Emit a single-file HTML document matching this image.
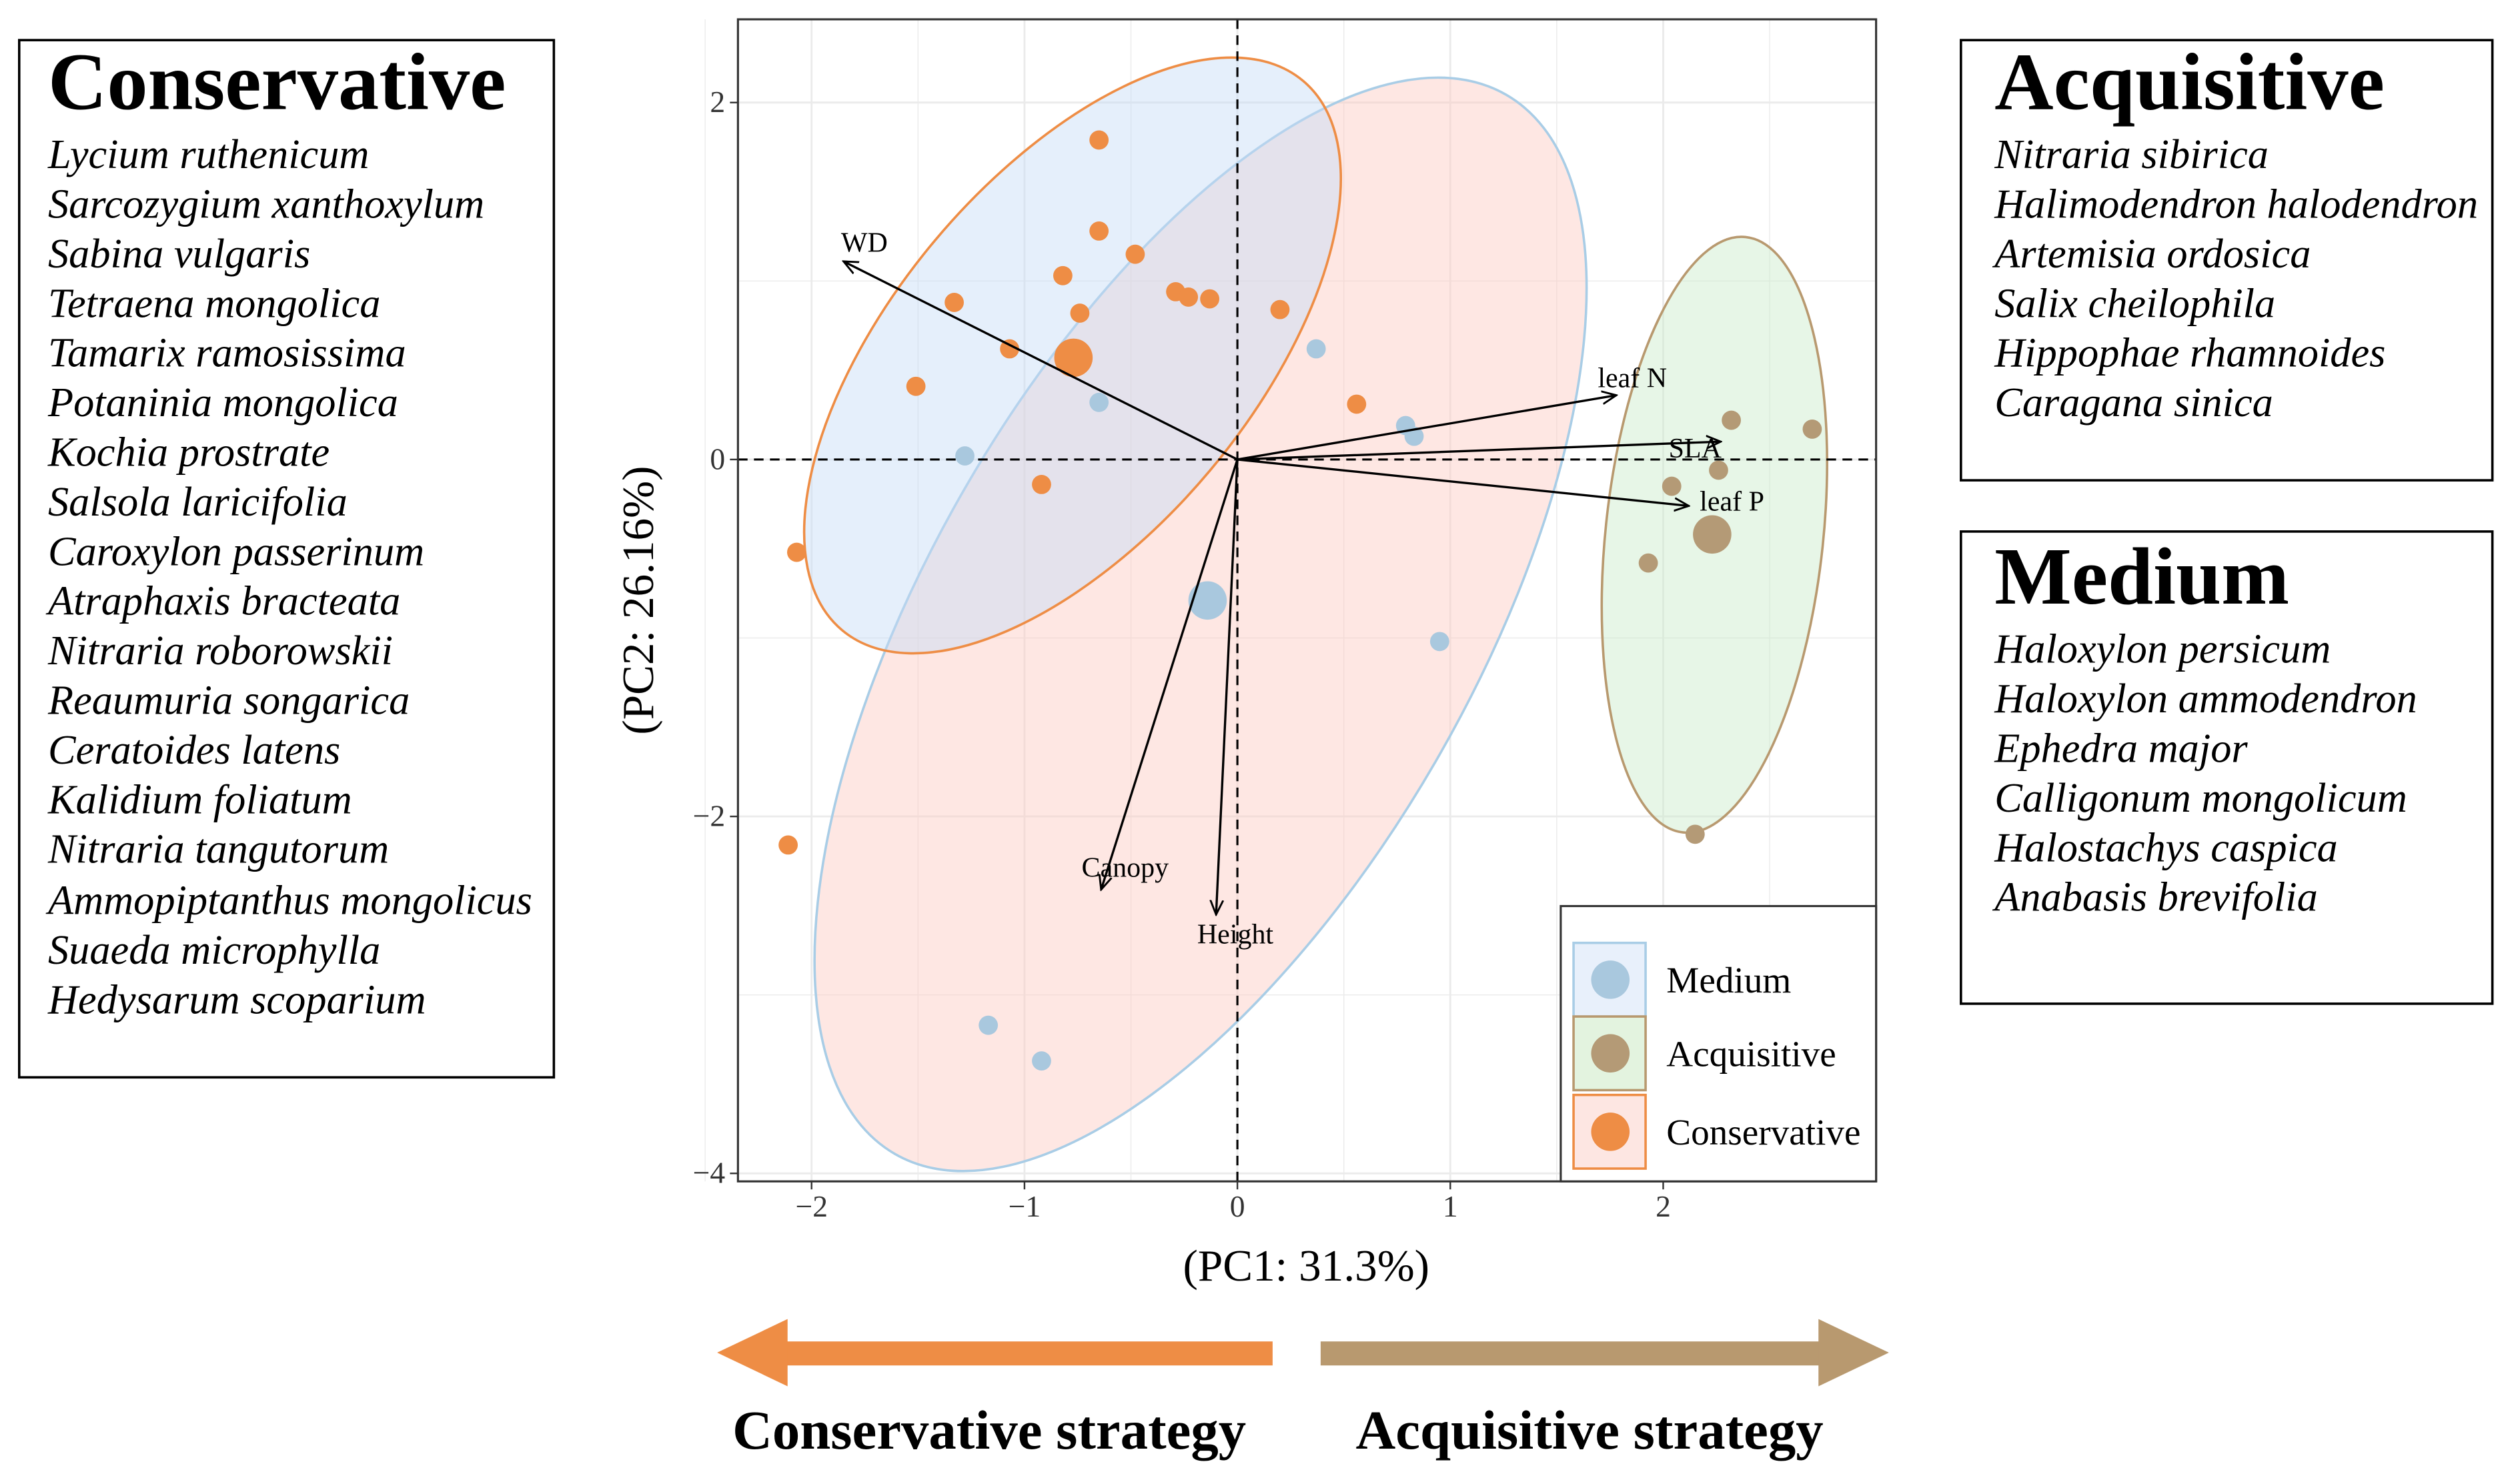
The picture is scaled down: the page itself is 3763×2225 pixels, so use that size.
<!DOCTYPE html>
<html><head><meta charset="utf-8">
<style>
html,body{margin:0;padding:0;background:#fff;}
svg{display:block;}
text{font-family:"Liberation Serif",serif;}
</style></head>
<body>
<svg id="chart" width="3763" height="2225" viewBox="0 0 1568 927" xmlns="http://www.w3.org/2000/svg">
<rect x="0" y="0" width="1568" height="927" fill="#fff"/>
<g id="plot"></g>

<g>
<rect x="12" y="25" width="334" height="648" fill="#fff" stroke="#000" stroke-width="1.5"/>
<text x="30" y="68" font-size="51" font-weight="bold">Conservative</text>
<g font-size="26" font-style="italic">
<text x="30" y="105">Lycium ruthenicum</text>
<text x="30" y="136">Sarcozygium xanthoxylum</text>
<text x="30" y="167">Sabina vulgaris</text>
<text x="30" y="198">Tetraena mongolica</text>
<text x="30" y="229">Tamarix ramosissima</text>
<text x="30" y="260">Potaninia mongolica</text>
<text x="30" y="291">Kochia prostrate</text>
<text x="30" y="322">Salsola laricifolia</text>
<text x="30" y="353">Caroxylon passerinum</text>
<text x="30" y="384">Atraphaxis bracteata</text>
<text x="30" y="415">Nitraria roborowskii</text>
<text x="30" y="446">Reaumuria songarica</text>
<text x="30" y="477">Ceratoides latens</text>
<text x="30" y="508">Kalidium foliatum</text>
<text x="30" y="539">Nitraria tangutorum</text>
<text x="30" y="571">Ammopiptanthus mongolicus</text>
<text x="30" y="602">Suaeda microphylla</text>
<text x="30" y="633">Hedysarum scoparium</text>
</g></g>

<g>
<rect x="1225" y="25" width="332" height="275" fill="#fff" stroke="#000" stroke-width="1.5"/>
<text x="1246" y="68" font-size="51" font-weight="bold">Acquisitive</text>
<g font-size="26" font-style="italic">
<text x="1246" y="105">Nitraria sibirica</text>
<text x="1246" y="136">Halimodendron halodendron</text>
<text x="1246" y="167">Artemisia ordosica</text>
<text x="1246" y="198">Salix cheilophila</text>
<text x="1246" y="229">Hippophae rhamnoides</text>
<text x="1246" y="260">Caragana sinica</text>
</g></g>

<g>
<rect x="1225" y="332" width="332" height="295" fill="#fff" stroke="#000" stroke-width="1.5"/>
<text x="1246" y="377" font-size="51" font-weight="bold">Medium</text>
<g font-size="26" font-style="italic">
<text x="1246" y="414">Haloxylon persicum</text>
<text x="1246" y="445">Haloxylon ammodendron</text>
<text x="1246" y="476">Ephedra major</text>
<text x="1246" y="507">Calligonum mongolicum</text>
<text x="1246" y="538">Halostachys caspica</text>
<text x="1246" y="569">Anabasis brevifolia</text>
</g></g>

<g>
<rect x="488" y="838" width="307" height="15" fill="#EE8D45"/>
<polygon points="448,845 492,824 492,866" fill="#EE8D45"/>
<text x="618" y="905" font-size="34.5" font-weight="bold" text-anchor="middle">Conservative strategy</text>
</g>
<g>
<rect x="825" y="838" width="314" height="15" fill="#B8996F"/>
<polygon points="1180,845 1136,824 1136,866" fill="#B8996F"/>
<text x="993" y="905" font-size="34.5" font-weight="bold" text-anchor="middle">Acquisitive strategy</text>
</g>
</svg>
<script>
const consX=[-0.65,-0.65,-0.48,-0.82,-1.33,-0.74,-0.29,-0.23,-0.13,0.20,-1.07,-0.77,-1.51,0.56,-0.92,-2.07,-2.11];
const consY=[1.79,1.28,1.15,1.03,0.88,0.82,0.94,0.91,0.90,0.84,0.62,0.57,0.41,0.31,-0.14,-0.52,-2.16];
const medX=[0.37,-0.65,-1.28,0.79,0.83,-0.14,0.95,-1.17,-0.92];
const medY=[0.62,0.32,0.02,0.19,0.13,-0.79,-1.02,-3.17,-3.37];
const acqX=[2.32,2.70,2.26,2.04,2.23,1.93,2.15];
const acqY=[0.22,0.17,-0.06,-0.15,-0.42,-0.58,-2.10];
const centroidX=[-0.77,-0.14,2.23];
const centroidY=[0.57,-0.79,-0.42];
const traitNames=["WD","leaf N","SLA","leaf P","Canopy","Height"];
const traitX=[-1.85,1.78,2.27,2.12,-0.64,-0.10];
const traitY=[1.11,0.36,0.10,-0.26,-2.41,-2.55];
const xTicks=[-2,-1,0,1,2];
const yTicks=[2,0,-2,-4];

const X0=773, XU=133, Y0=287, YU=111.5;
const sx=v=>X0+v*XU, sy=v=>Y0-v*YU;
const NS="http://www.w3.org/2000/svg";
const plot=document.getElementById('plot');
function mk(tag,attrs,parent){const e=document.createElementNS(NS,tag);for(const k in attrs)e.setAttribute(k,attrs[k]);(parent||plot).appendChild(e);return e;}

const L=461,R=1172,T=12,B=738;
const bg=mk('rect',{x:L,y:T,width:R-L,height:B-T,fill:'#fff'});


for(let v=-2.5;v<=3;v+=0.5){const gl=mk('line',{x1:sx(v),x2:sx(v),y1:T,y2:B,stroke:'#ebebeb','stroke-width':v%1===0?1.2:0.6});

}
for(let v=-4;v<=2.5;v+=1){const gl=mk('line',{x1:L,x2:R,y1:sy(v),y2:sy(v),stroke:'#ebebeb','stroke-width':v%2===0?1.2:0.6});

}

function ell(cx,cy,rx,ry,ang,fill,stroke,name){const e=mk('ellipse',{cx:cx,cy:cy,rx:rx,ry:ry,transform:`rotate(${ang} ${cx} ${cy})`,fill:fill,'fill-opacity':0.45,stroke:stroke,'stroke-width':1.5});

}
ell(750,390,382,170,-60,'#fcc9c2','#a9cde6','medium-ellipse');
ell(670,222,224,112,-50,'#c6dcf7','#EE8D45','conservative-ellipse');
ell(1071,334,187,68,96,'#c9ecc9','#B8996F','acquisitive-ellipse');

const hz=mk('line',{x1:L,x2:R,y1:sy(0),y2:sy(0),stroke:'#000','stroke-width':1.3,'stroke-dasharray':'6,4'});


const vz=mk('line',{x1:sx(0),x2:sx(0),y1:T,y2:B,stroke:'#000','stroke-width':1.3,'stroke-dasharray':'6,4'});



function pts(xs,ys,col,name){xs.forEach((x,i)=>{const c=mk('circle',{cx:sx(x),cy:sy(ys[i]),r:6,fill:col});

});}
pts(medX,medY,'#A9C8DE','medium-point');
pts(consX,consY,'#EE8D45','conservative-point');
pts(acqX,acqY,'#B49A76','acquisitive-point');
const ccols=['#EE8D45','#A9C8DE','#B49A76'];
centroidX.forEach((x,i)=>{const c=mk('circle',{cx:sx(x),cy:sy(centroidY[i]),r:12,fill:ccols[i]});

});

const defs=mk('defs',{});
const mkr=mk('marker',{id:'ah',markerWidth:10,markerHeight:10,refX:9,refY:5,orient:'auto',markerUnits:'userSpaceOnUse'},defs);
mk('path',{d:'M0,1 L9,5 L0,9',fill:'none',stroke:'#000','stroke-width':1.2},mkr);
const lblOff=[[13,-12],[10,-11],[-16,4],[27,-3],[15,-14],[12,12]];
traitNames.forEach((n,i)=>{const a=mk('line',{x1:sx(0),y1:sy(0),x2:sx(traitX[i]),y2:sy(traitY[i]),stroke:'#000','stroke-width':1.4,'marker-end':'url(#ah)'});


const t=mk('text',{x:sx(traitX[i])+lblOff[i][0],y:sy(traitY[i])+lblOff[i][1]+6,'font-size':17.5,'text-anchor':'middle'});
t.textContent=n;

});

const br=mk('rect',{x:L,y:T,width:R-L,height:B-T,fill:'none',stroke:'#333','stroke-width':1.3});



xTicks.forEach(v=>{mk('line',{x1:sx(v),x2:sx(v),y1:B,y2:B+5,stroke:'#333'});
const t=mk('text',{x:sx(v),y:B+22,'font-size':19,'text-anchor':'middle',fill:'#333'});
t.textContent=v<0?'\u2212'+(-v):v;

});
yTicks.forEach(v=>{mk('line',{x1:L-5,x2:L,y1:sy(v),y2:sy(v),stroke:'#333'});
const t=mk('text',{x:L-8,y:sy(v)+6,'font-size':19,'text-anchor':'end',fill:'#333'});
t.textContent=v<0?'\u2212'+(-v):v;

});

const xt=mk('text',{x:816,y:800,'font-size':28,'text-anchor':'middle'});xt.textContent='(PC1: 31.3%)';


const yt=mk('text',{x:0,y:0,'font-size':28,'text-anchor':'middle',transform:'translate(408,375) rotate(-90)'});yt.textContent='(PC2: 26.16%)';



const lg=mk('g',{});


mk('rect',{x:975,y:566,width:197,height:172,fill:'#fff',stroke:'#333','stroke-width':1.3},lg);
const legNames=['Medium','Acquisitive','Conservative'];
const legFill=['#e8f0fb','#e3f3df','#fde6e2'];
const legStroke=['#a9cde6','#B8996F','#EE8D45'];
const legPt=['#A9C8DE','#B49A76','#EE8D45'];
const legY=[612,658,707];
legNames.forEach((n,i)=>{const g=mk('g',{},lg);


mk('rect',{x:983,y:legY[i]-23,width:45,height:46,fill:legFill[i],stroke:legStroke[i],'stroke-width':1.5},g);
mk('circle',{cx:1006,cy:legY[i],r:12,fill:legPt[i]},g);
const t=mk('text',{x:1041,y:legY[i]+8,'font-size':23},g);t.textContent=n;});
</script>
</body></html>
